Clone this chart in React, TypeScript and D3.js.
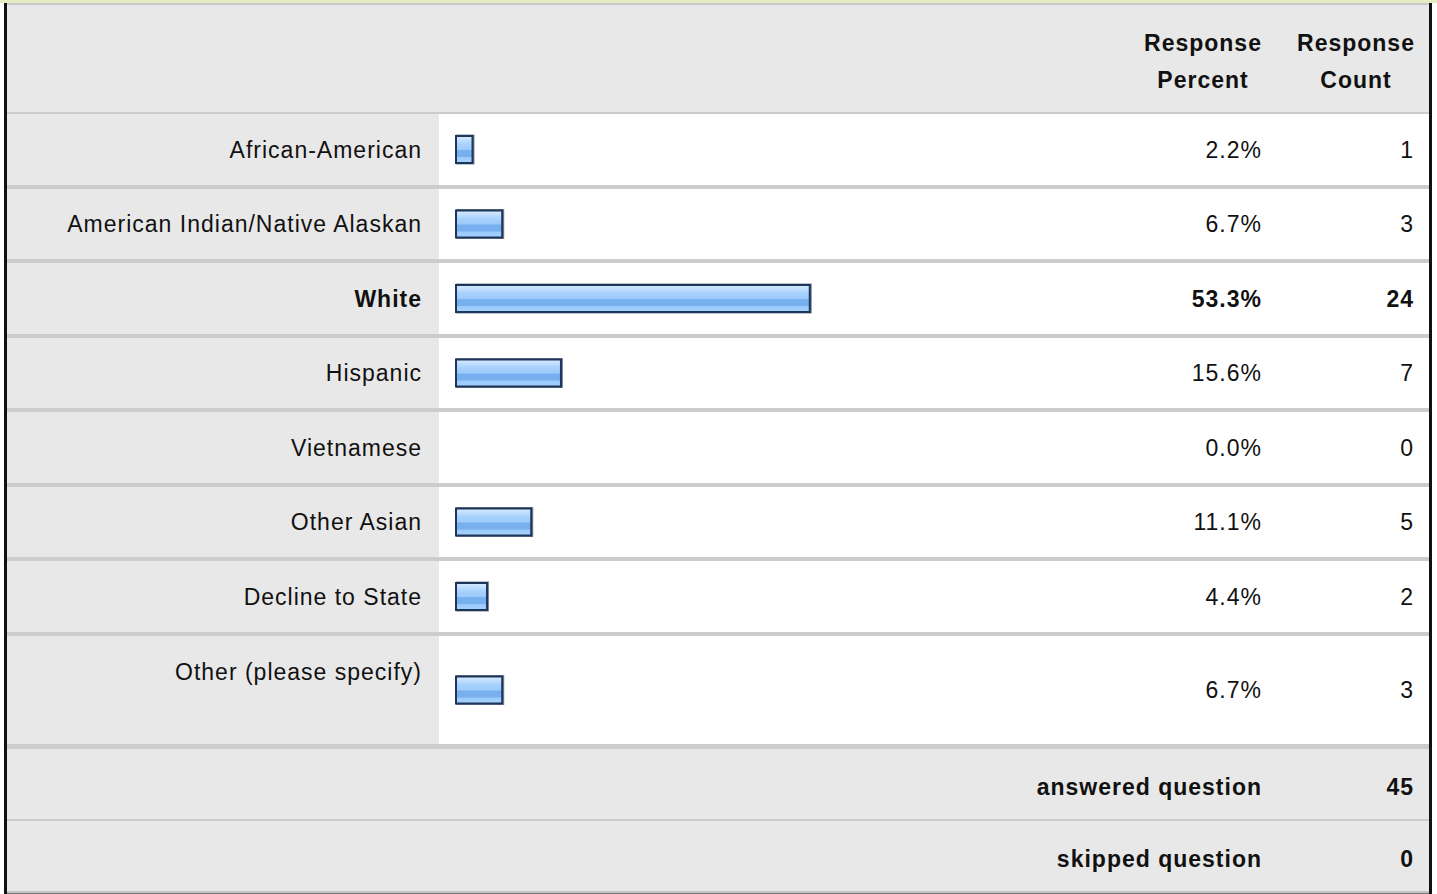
import React from "react";
import * as d3 from "d3";

const categories = [
  "African-American",
  "American Indian/Native Alaskan",
  "White",
  "Hispanic",
  "Vietnamese",
  "Other Asian",
  "Decline to State",
  "Other (please specify)",
];
const percents = [2.2, 6.7, 53.3, 15.6, 0.0, 11.1, 4.4, 6.7];
const counts = [1, 3, 24, 7, 0, 5, 2, 3];
const boldRow = "White";
const headerPercent = ["Response", "Percent"];
const headerCount = ["Response", "Count"];
const summaryLabels = ["answered question", "skipped question"];
const summaryValues = [45, 0];

const W = 1437;
const H = 894;
const FONT = "'Liberation Sans', Arial, Helvetica, sans-serif";

export default function App() {
  const left = 4;
  const right = 1432;
  const innerL = 7;
  const innerR = 1429;
  const labelColR = 439;
  const headerTop = 5;
  const headerBottom = 112;
  const bodyTop = 114;
  const pitch = 74.57;
  const sepH = 4;
  const lastRowH = 108;

  const rowTops = categories.map((_, i) => Math.round(bodyTop + i * pitch));
  const rowH = categories.map((_, i) =>
    i === categories.length - 1 ? lastRowH : rowTops[i + 1] - rowTops[i] - sepH
  );
  const bodyEnd = rowTops[categories.length - 1] + lastRowH; // 744
  const foot1Top = bodyEnd + 5;
  const foot1H = 70;
  const foot2Top = foot1Top + foot1H + 2;
  const foot2H = 70;

  const x = d3.scaleLinear().domain([0, 100]).range([0, 660]);
  const barX = 455;
  const barH = 29;
  const labelX = 422;
  const pctX = 1262;
  const cntX = 1414;

  const textProps = {
    fontFamily: FONT,
    fontSize: 23,
    letterSpacing: 1,
    fill: "#111",
  } as const;

  return (
    <svg
      width={W}
      height={H}
      style={{ position: "absolute", left: 0, top: 0, display: "block" }}
    >
      <defs>
        <linearGradient id="barGrad" x1="0" y1="0" x2="0" y2="1">
          <stop offset="0%" stopColor="#d9ecff" />
          <stop offset="18%" stopColor="#bcdcff" />
          <stop offset="30%" stopColor="#a9d2fc" />
          <stop offset="50%" stopColor="#9ccafa" />
          <stop offset="54%" stopColor="#78b0ef" />
          <stop offset="76%" stopColor="#78b0ef" />
          <stop offset="80%" stopColor="#9bcbfb" />
          <stop offset="100%" stopColor="#a6d2ff" />
        </linearGradient>
      </defs>
      <rect x={0} y={0} width={W} height={H} fill="#ffffff" />
      {/* top band */}
      <rect x={0} y={0} width={W} height={3} fill="#e6ecc4" />
      <rect x={left} y={3} width={right - left} height={2} fill="#c8c8c8" />
      {/* header */}
      <rect x={innerL} y={headerTop} width={innerR - innerL} height={headerBottom - headerTop} fill="#e8e8e8" />
      <rect x={innerL} y={headerBottom} width={innerR - innerL} height={2} fill="#cccccc" />
      {headerPercent.map((t, i) => (
        <text key={"hp" + i} {...textProps} fontWeight="bold" x={1203} y={51 + i * 37} textAnchor="middle">
          {t}
        </text>
      ))}
      {headerCount.map((t, i) => (
        <text key={"hc" + i} {...textProps} fontWeight="bold" x={1356} y={51 + i * 37} textAnchor="middle">
          {t}
        </text>
      ))}
      {/* body rows */}
      {categories.map((c, i) => {
        const top = rowTops[i];
        const h = rowH[i];
        const cy = top + h / 2;
        const isLast = i === categories.length - 1;
        const labelCy = isLast ? top + 36 : cy;
        const bold = c === boldRow;
        const w = percents[i] > 0 ? x(percents[i]) + 4 : 0;
        return (
          <g key={c}>
            <rect x={innerL} y={top} width={labelColR - innerL} height={h} fill="#e8e8e8" />
            <rect x={labelColR} y={top} width={innerR - labelColR} height={h} fill="#ffffff" />
            {!isLast && (
              <rect x={innerL} y={top + h} width={innerR - innerL} height={sepH} fill="#cccccc" />
            )}
            <text {...textProps} fontWeight={bold ? "bold" : "normal"} x={labelX} y={labelCy} dy="0.35em" textAnchor="end">
              {c}
            </text>
            {w > 0 && (
              <g>
                <rect x={barX + 1} y={cy - barH / 2 - 0.5} width={w} height={barH + 1} fill="#7f8a99" />
                <rect
                  x={barX + 1}
                  y={cy - barH / 2 + 1}
                  width={w - 2}
                  height={barH - 2}
                  fill="url(#barGrad)"
                  stroke="#1d3558"
                  strokeWidth={2}
                />
              </g>
            )}
            <text {...textProps} fontWeight={bold ? "bold" : "normal"} x={pctX} y={cy} dy="0.35em" textAnchor="end">
              {percents[i].toFixed(1) + "%"}
            </text>
            <text {...textProps} fontWeight={bold ? "bold" : "normal"} x={cntX} y={cy} dy="0.35em" textAnchor="end">
              {counts[i]}
            </text>
          </g>
        );
      })}
      {/* footer */}
      <rect x={innerL} y={bodyEnd} width={innerR - innerL} height={5} fill="#cccccc" />
      <rect x={innerL} y={foot1Top} width={innerR - innerL} height={foot1H} fill="#e8e8e8" />
      <rect x={innerL} y={foot1Top + foot1H} width={innerR - innerL} height={2} fill="#cccccc" />
      <rect x={innerL} y={foot2Top} width={innerR - innerL} height={foot2H} fill="#e8e8e8" />
      {summaryLabels.map((t, i) => {
        const cy = (i === 0 ? foot1Top + foot1H / 2 : foot2Top + foot2H / 2) + 3;
        return (
          <g key={t}>
            <text {...textProps} fontWeight="bold" x={pctX} y={cy} dy="0.35em" textAnchor="end">
              {t}
            </text>
            <text {...textProps} fontWeight="bold" x={cntX} y={cy} dy="0.35em" textAnchor="end">
              {summaryValues[i]}
            </text>
          </g>
        );
      })}
      {/* bottom */}
      <rect x={left} y={891} width={right - left} height={2} fill="#c4c4c4" />
      <rect x={left} y={893} width={right - left} height={1} fill="#777777" />
      {/* side borders */}
      <rect x={left} y={3} width={3} height={H - 3} fill="#111111" />
      <rect x={innerR} y={3} width={3} height={H - 3} fill="#111111" />
    </svg>
  );
}
